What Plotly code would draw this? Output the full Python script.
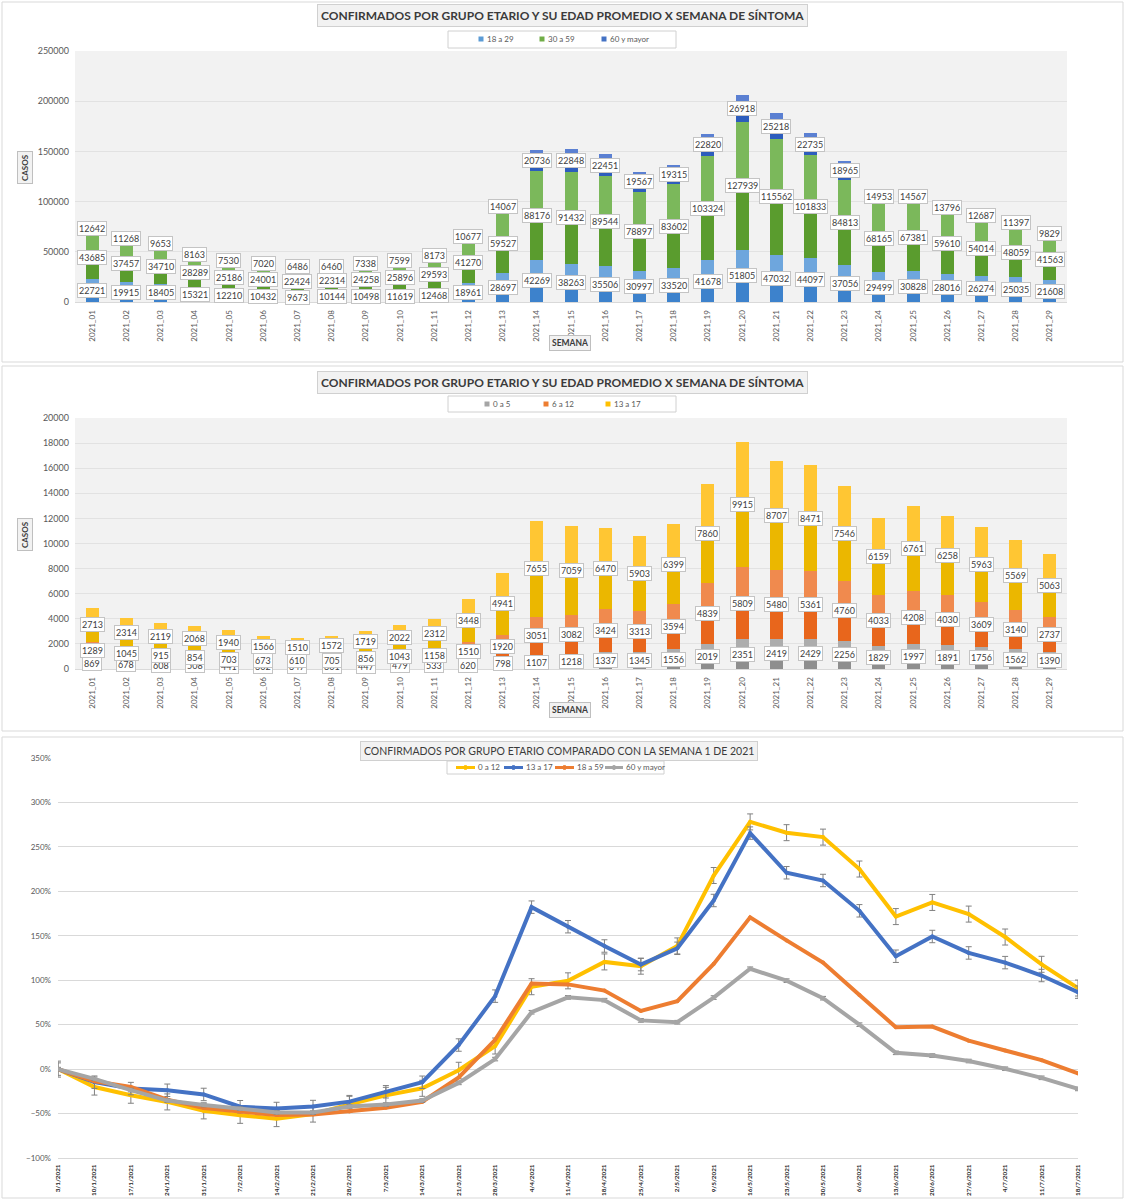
import plotly.graph_objects as go

# ---------------- DATA ----------------
weeks = ["2021_01", "2021_02", "2021_03", "2021_04", "2021_05", "2021_06", "2021_07",
         "2021_08", "2021_09", "2021_10", "2021_11", "2021_12", "2021_13", "2021_14",
         "2021_15", "2021_16", "2021_17", "2021_18", "2021_19", "2021_20", "2021_21",
         "2021_22", "2021_23", "2021_24", "2021_25", "2021_26", "2021_27", "2021_28",
         "2021_29"]

# Chart 1 (adults)
a18_29 = [22721, 19915, 18405, 15321, 12210, 10432, 9673, 10144, 10498, 11619, 12468, 18961,
          28697, 42269, 38263, 35506, 30997, 33520, 41678, 51805, 47032, 44097, 37056, 29499,
          30828, 28016, 26274, 25035, 21608]
a30_59 = [43685, 37457, 34710, 28289, 25186, 24001, 22424, 22314, 24258, 25896, 29593, 41270,
          59527, 88176, 91432, 89544, 78897, 83602, 103324, 127939, 115562, 101833, 84813, 68165,
          67381, 59610, 54014, 48059, 41563]
a60_mas = [12642, 11268, 9653, 8163, 7530, 7020, 6486, 6460, 7338, 7599, 8173, 10677, 14067,
           20736, 22848, 22451, 19567, 19315, 22820, 26918, 25218, 22735, 18965, 14953, 14567,
           13796, 12687, 11397, 9829]

# Chart 2 (children)
a0_5 = [869, 678, 608, 508, 441, 362, 347, 361, 447, 479, 533, 620, 798, 1107, 1218, 1337, 1345,
        1556, 2019, 2351, 2419, 2429, 2256, 1829, 1997, 1891, 1756, 1562, 1390]
a6_12 = [1289, 1045, 915, 854, 703, 673, 610, 705, 856, 1043, 1158, 1510, 1920, 3051, 3082, 3424,
         3313, 3594, 4839, 5809, 5480, 5361, 4760, 4033, 4208, 4030, 3609, 3140, 2737]
a13_17 = [2713, 2314, 2119, 2068, 1940, 1566, 1510, 1572, 1719, 2022, 2312, 3448, 4941, 7655,
          7059, 6470, 5903, 6399, 7860, 9915, 8707, 8471, 7546, 6159, 6761, 6258, 5963, 5569, 5063]

# Chart 3 (% change vs week 1)
dates = ["3/1/2021", "10/1/2021", "17/1/2021", "24/1/2021", "31/1/2021", "7/2/2021", "14/2/2021",
         "21/2/2021", "28/2/2021", "7/3/2021", "14/3/2021", "21/3/2021", "28/3/2021", "4/4/2021",
         "11/4/2021", "18/4/2021", "25/4/2021", "2/5/2021", "9/5/2021", "16/5/2021", "23/5/2021",
         "30/5/2021", "6/6/2021", "13/6/2021", "20/6/2021", "27/6/2021", "4/7/2021", "11/7/2021",
         "18/7/2021"]
p0_12 = [0, -20.2, -29.4, -36.9, -47.0, -52.0, -55.7, -50.6, -39.6, -29.5, -21.6, -1.3, 26.0, 92.7,
         99.3, 120.6, 115.8, 138.6, 217.8, 278.1, 266.0, 261.0, 225.1, 171.6, 187.5, 174.4, 148.6,
         117.9, 91.2]
p13_17 = [0, -14.7, -21.9, -23.8, -28.5, -42.3, -44.3, -42.1, -36.6, -25.5, -14.8, 27.1, 82.1,
          182.2, 160.2, 138.5, 117.6, 135.9, 189.7, 265.5, 220.9, 212.2, 178.1, 127.0, 149.2,
          130.7, 119.8, 105.3, 86.6]
p18_59 = [0, -13.6, -20.0, -34.3, -43.7, -48.1, -51.7, -51.1, -47.7, -43.5, -36.7, -9.3, 32.9,
          96.4, 95.3, 88.3, 65.5, 76.4, 118.4, 170.7, 144.8, 119.8, 83.5, 47.1, 47.9, 32.0, 20.9,
          10.1, -4.9]
p60_mas = [0, -10.9, -23.6, -35.4, -40.4, -44.5, -48.7, -48.9, -42.0, -39.9, -35.4, -15.5, 11.3,
           64.0, 80.7, 77.6, 54.8, 52.8, 80.5, 112.9, 99.5, 79.8, 50.0, 18.3, 15.2, 9.1, 0.4, -9.8,
           -22.3]

# ---------------- STYLE ----------------
W, H = 1125, 1200
FONT = "Lato"
TXT = "#404040"
TICK = "#595959"


def px(xp):
    return min(max(xp, 0.5), W - 0.5) / W


def py(yp):
    return 1 - min(max(yp, 0.5), H - 0.5) / H


fig = go.Figure()

annotations = []
shapes = []


def stacked(series, xa, ya):
    base = [0] * len(weeks)
    for name, vals, clo, chi in series:
        half = [v / 2 for v in vals]
        for col in (clo, chi):
            fig.add_trace(go.Bar(x=weeks, y=half, name=name, marker_color=col,
                                 marker_line_width=0, width=0.38, xaxis=xa, yaxis=ya,
                                 legendgroup=ya + name, showlegend=False, customdata=vals,
                                 hovertemplate=name + ": %{customdata}<extra></extra>"))
        for i, v in enumerate(vals):
            annotations.append(dict(x=weeks[i], y=base[i] + v / 2, xref=xa, yref=ya,
                                    xanchor="center", yanchor="middle",
                                    text=str(v), showarrow=False,
                                    font=dict(family=FONT, size=9, color=TXT),
                                    bgcolor="white", bordercolor="#c4c4c4", borderwidth=1,
                                    borderpad=1))
            base[i] += v


stacked([("18 a 29", a18_29, "#3d82cc", "#6ea6dd"),
         ("30 a 59", a30_59, "#5a9c2e", "#7bb85b"),
         ("60 y mayor", a60_mas, "#2d5dbd", "#5b80d2")], "x", "y")

stacked([("0 a 5", a0_5, "#8e8e8e", "#adadad"),
         ("6 a 12", a6_12, "#e8661c", "#f08a4e"),
         ("13 a 17", a13_17, "#ebb700", "#ffc633")], "x2", "y2")

lines = [("0 a 12", p0_12, "#ffc000", 9),
         ("13 a 17", p13_17, "#4472c4", 7),
         ("18 a 59", p18_59, "#ed7d31", None),
         ("60 y mayor", p60_mas, "#a5a5a5", 2)]
for name, vals, col, err in lines:
    ey = (dict(type="constant", value=err, color="#808080", thickness=1, width=3)
          if err else dict(visible=False))
    fig.add_trace(go.Scatter(x=dates, y=vals, name=name, mode="lines+markers",
                             line=dict(color=col, width=4), marker=dict(color=col, size=4),
                             error_y=ey, xaxis="x3", yaxis="y3", showlegend=False,
                             hovertemplate=name + ": %{y:.1f}%<extra></extra>"))

# ---------------- LEGENDS (drawn as text + swatches) ----------------


def legend_frame(x0, x1, y0, y1):
    shapes.append(dict(type="rect", xref="paper", yref="paper", x0=px(x0), x1=px(x1),
                       y0=py(y1), y1=py(y0), fillcolor="white",
                       line=dict(color="#d0d0d0", width=1)))


def legend_text(x, y, text):
    annotations.append(dict(text=text, x=px(x), y=py(y), xref="paper", yref="paper",
                            showarrow=False, xanchor="left", yanchor="middle",
                            font=dict(family=FONT, size=8, color=TICK)))


def square_legend(items, y, frame):
    legend_frame(*frame)
    for name, col, xs in items:
        shapes.append(dict(type="rect", xref="paper", yref="paper",
                           x0=px(xs - 2.5), x1=px(xs + 2.5), y0=py(y + 2.5), y1=py(y - 2.5),
                           fillcolor=col, line_width=0))
        legend_text(xs + 3.5, y, name)


square_legend([("18 a 29", "#5b9bd5", 481), ("30 a 59", "#70ad47", 542),
               ("60 y mayor", "#4472c4", 604)], 39, (448, 676, 31, 48))
square_legend([("0 a 5", "#a5a5a5", 487), ("6 a 12", "#ed7d31", 546),
               ("13 a 17", "#ffc000", 608)], 404, (448, 676, 396, 412))

legend_frame(447, 664, 761, 774)
for name, col, xa, xb in [("0 a 12", "#ffc000", 456, 475), ("13 a 17", "#4472c4", 504, 523),
                          ("18 a 59", "#ed7d31", 555, 574), ("60 y mayor", "#a5a5a5", 605, 623)]:
    shapes.append(dict(type="line", xref="paper", yref="paper", x0=px(xa), x1=px(xb),
                       y0=py(767.5), y1=py(767.5), line=dict(color=col, width=3)))
    xm = (xa + xb) / 2
    shapes.append(dict(type="circle", xref="paper", yref="paper", x0=px(xm - 2), x1=px(xm + 2),
                       y0=py(769.5), y1=py(765.5), fillcolor=col, line=dict(color=col, width=1)))
    legend_text(xb + 1, 767.5, name)

# ---------------- LAYOUT ----------------
bar_x_dom = [px(75), px(1067)]
line_x_dom = [px(58), px(1078)]

xcommon = dict(type="category", tickangle=-90, showgrid=False, showline=True,
               linecolor="#d9d9d9", ticks="", tickfont=dict(family=FONT, size=8, color=TICK),
               ticklabelstandoff=4, fixedrange=True, automargin=False)
ycommon = dict(showgrid=True, gridcolor="#e2e2e2", zeroline=False, ticks="",
               tickfont=dict(family=FONT, size=9, color=TICK), ticklabelstandoff=5,
               fixedrange=True, automargin=False)

# plot area backgrounds for bar charts
for xr, yr in (("x", "y"), ("x2", "y2")):
    shapes.append(dict(type="rect", xref=xr + " domain", yref=yr + " domain", x0=0, x1=1,
                       y0=0, y1=1, fillcolor="#f2f2f2", line_width=0, layer="below"))
# panel borders
for top, bot in ((2, 362), (366, 731), (737, 1198)):
    shapes.append(dict(type="rect", xref="paper", yref="paper", x0=px(2), x1=px(1123),
                       y0=py(bot), y1=py(top), line=dict(color="#d9d9d9", width=1),
                       fillcolor="rgba(0,0,0,0)", layer="below"))


def box_title(text, x, y, size, bold=True):
    t = "<b>" + text + "</b>" if bold else text
    return dict(text=t, x=px(x), y=py(y), xref="paper", yref="paper", showarrow=False,
                xanchor="center", yanchor="middle",
                font=dict(family=FONT, size=size, color="#3b3b3b"), bgcolor="#f2f2f2",
                bordercolor="#d0d0d0", borderwidth=1, borderpad=3)


annotations.append(box_title("CONFIRMADOS POR GRUPO ETARIO Y SU EDAD PROMEDIO X SEMANA DE SÍNTOMA",
                             562, 16, 12))
annotations.append(box_title("CONFIRMADOS POR GRUPO ETARIO Y SU EDAD PROMEDIO X SEMANA DE SÍNTOMA",
                             562, 382, 12))
annotations.append(box_title("CONFIRMADOS POR GRUPO ETARIO COMPARADO CON LA SEMANA 1 DE 2021",
                             559, 751, 10.5, bold=False))

for yy in (343, 710):
    annotations.append(dict(text="<b>SEMANA</b>", x=px(570), y=py(yy), xref="paper",
                            yref="paper", showarrow=False, xanchor="center", yanchor="middle",
                            font=dict(family=FONT, size=8.5, color="#3b3b3b"),
                            bgcolor="#f2f2f2", bordercolor="#bfbfbf", borderwidth=1,
                            borderpad=2))
for yy in (168, 535):
    annotations.append(dict(text="<b>CASOS</b>", x=px(25), y=py(yy), xref="paper",
                            yref="paper", showarrow=False, textangle=-90,
                            xanchor="center", yanchor="middle",
                            font=dict(family=FONT, size=8, color="#3b3b3b"),
                            bgcolor="#f2f2f2", bordercolor="#bfbfbf", borderwidth=1,
                            borderpad=2))

fig.update_layout(
    width=W, height=H, margin=dict(l=0, r=0, t=0, b=0, autoexpand=False),
    paper_bgcolor="white", plot_bgcolor="rgba(0,0,0,0)",
    barmode="stack", showlegend=False,
    font=dict(family=FONT, color=TXT),
    xaxis=dict(domain=bar_x_dom, anchor="y", range=[-0.5, 28.5], **xcommon),
    yaxis=dict(domain=[py(302), py(51)], anchor="x", range=[0, 250000], dtick=50000,
               tickformat="d", **ycommon),
    xaxis2=dict(domain=bar_x_dom, anchor="y2", range=[-0.5, 28.5], **xcommon),
    yaxis2=dict(domain=[py(669), py(418)], anchor="x2", range=[0, 20000], dtick=2000,
                tickformat="d", **ycommon),
    xaxis3=dict(domain=line_x_dom, anchor="y3", range=[0, 28], type="category", tickangle=-90,
                showgrid=False, showline=True, linecolor="#d9d9d9", ticks="",
                tickfont=dict(family=FONT, size=6.3, color="#262626", weight="bold"),
                ticklabelstandoff=3, fixedrange=True, automargin=False),
    yaxis3=dict(domain=[py(1158), py(758)], anchor="x3", range=[-100, 350], dtick=50,
                ticksuffix="%", showgrid=True, gridcolor="#d9d9d9", zeroline=False, ticks="",
                tickfont=dict(family=FONT, size=8, color=TICK), ticklabelstandoff=6,
                fixedrange=True, automargin=False),
    shapes=shapes,
    annotations=annotations,
)

fig.write_html("out.html", config={"displayModeBar": False},
               post_script="document.body.style.margin='0';")
